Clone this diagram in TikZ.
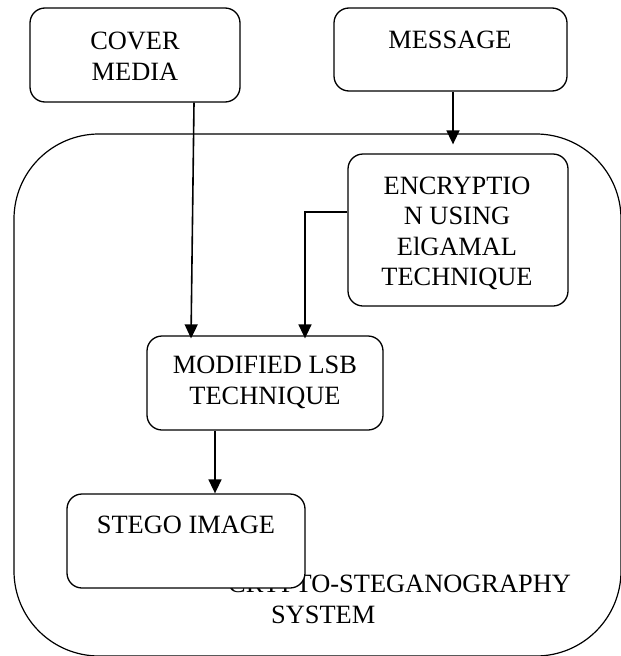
\documentclass[tikz,border=0pt]{standalone}
\usepackage{fontspec}
\setmainfont{Liberation Serif}
\usetikzlibrary{arrows.meta}
\tikzset{
  box/.style={draw, line width=1.3pt, rounded corners=15pt, fill=white, inner sep=0pt},
  bigbox/.style={draw, line width=1.2pt, rounded corners=85pt, inner sep=0pt},
  txt/.style={font=\fontsize{26.4}{31}\selectfont, align=center, inner sep=0pt},
  arr/.style={line width=1.6pt, -{Triangle[length=14pt,width=13pt]}}
}
\begin{document}
\begin{tikzpicture}[x=1pt,y=-1pt]
\useasboundingbox (0,0) rectangle (621,656);
% container
\node[bigbox, minimum width=607pt, minimum height=522pt] (sys) at (317.5,395) {};
\node[txt, align=left, anchor=west] (systxt) at (228,599.5) {CRYPTO-STEGANOGRAPHY\\\hspace*{43pt}SYSTEM};
% boxes
\node[box, minimum width=210pt, minimum height=94pt] (cover) at (135,55) {};
\node[box, minimum width=233pt, minimum height=83pt] (msg) at (450.5,49.5) {};
\node[box, minimum width=220pt, minimum height=152pt] (enc) at (458,230) {};
\node[box, minimum width=236pt, minimum height=94pt] (mod) at (265,383) {};
\node[box, minimum width=238pt, minimum height=94pt] (stego) at (186,541) {};
% texts
\node[txt] (covert) at (135,56) {COVER\\MEDIA};
\node[txt] (msgt) at (450,40) {MESSAGE};
\node[txt, font=\fontsize{26.4}{30.5}\selectfont] (enct) at (457,233.5) {ENCRYPTIO\\N USING\\ElGAMAL\\TECHNIQUE};
\node[txt] (modt) at (265,382.5) {MODIFIED LSB\\TECHNIQUE};
\node[txt] (stegot) at (186,525) {STEGO IMAGE};
% connectors
\draw[arr] ([xshift=2.5pt]msg.south) -- ([xshift=-5pt,yshift=9pt]enc.north);
\draw[arr] ([xshift=59pt]cover.south) -- ([xshift=-74pt,yshift=-3pt]mod.north);
\draw[arr] ([yshift=18pt]enc.west) -| ([xshift=40pt,yshift=-3pt]mod.north);
\draw[arr] ([xshift=-50pt]mod.south) -- ([xshift=-50pt]mod.south |- stego.north);
\end{tikzpicture}
\end{document}
